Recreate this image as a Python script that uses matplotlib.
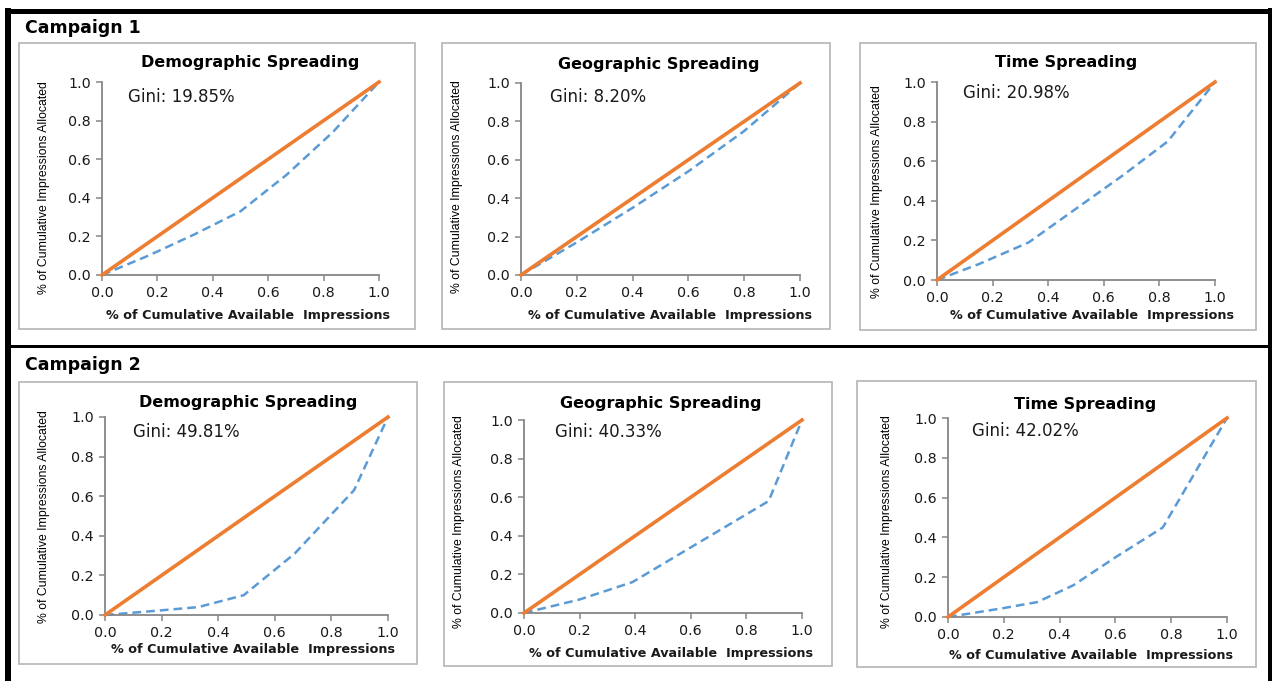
import matplotlib
matplotlib.use("Agg")
import matplotlib.pyplot as plt
from matplotlib.lines import Line2D
from matplotlib.patches import Rectangle

W, H = 1272, 681

# Lorenz curves (x = cum. available, y = cum. allocated)
c1_demo_x = [0.0, 0.167, 0.333, 0.5, 0.667, 0.833, 1.0]
c1_demo_y = [0.0, 0.10, 0.21, 0.33, 0.52, 0.74, 1.0]
c1_geo_x = [0.0, 0.2, 0.4, 0.6, 0.8, 1.0]
c1_geo_y = [0.0, 0.17, 0.35, 0.54, 0.75, 1.0]
c1_time_x = [0.0, 0.15, 0.33, 0.5, 0.67, 0.83, 1.0]
c1_time_y = [0.0, 0.08, 0.19, 0.36, 0.53, 0.70, 1.0]

c2_demo_x = [0.0, 0.17, 0.33, 0.49, 0.67, 0.88, 1.0]
c2_demo_y = [0.0, 0.02, 0.04, 0.10, 0.31, 0.63, 1.0]
c2_geo_x = [0.0, 0.2, 0.39, 0.6, 0.88, 1.0]
c2_geo_y = [0.0, 0.07, 0.16, 0.34, 0.58, 1.0]
c2_time_x = [0.0, 0.2, 0.32, 0.45, 0.6, 0.77, 1.0]
c2_time_y = [0.0, 0.045, 0.075, 0.16, 0.30, 0.45, 1.0]

titles = ["Demographic Spreading", "Geographic Spreading", "Time Spreading"]
gini_c1 = ["19.85%", "8.20%", "20.98%"]
gini_c2 = ["49.81%", "40.33%", "42.02%"]
campaigns = ["Campaign 1", "Campaign 2"]
ticks = [0.0, 0.2, 0.4, 0.6, 0.8, 1.0]

ORANGE = "#ED7D31"
BLUE = "#5B9BD5"
AXIS_GRAY = "#868686"
BOX_GRAY = "#B4B4B4"
TXT = "#1a1a1a"

# layout in reference pixels: box, axes(x0,x1,ytop,ybot), title center, gini left, xlabel center, ylabel center
panels = [
    dict(box=(19, 43, 415, 329), ax=(102, 379, 82, 275), title=(250, 62), gini=(128, 97), xl=(248, 315), yl=(44, 188)),
    dict(box=(442, 43, 830, 329), ax=(521, 800, 83, 275), title=(659, 64), gini=(550, 97), xl=(670, 315), yl=(457, 187)),
    dict(box=(860, 43, 1256, 330), ax=(937, 1215, 82, 280), title=(1066, 62), gini=(963, 93), xl=(1092, 315), yl=(877, 192)),
    dict(box=(19, 382, 417, 664), ax=(105, 388, 417, 615), title=(248, 402), gini=(133, 432), xl=(253, 650), yl=(44, 517)),
    dict(box=(444, 382, 832, 666), ax=(524, 802, 420, 613), title=(661, 404), gini=(555, 432), xl=(671, 653), yl=(459, 522)),
    dict(box=(857, 381, 1256, 667), ax=(948, 1227, 418, 617), title=(1085, 405), gini=(972, 431), xl=(1091, 655), yl=(887, 522)),
]

series = [
    (c1_demo_x, c1_demo_y), (c1_geo_x, c1_geo_y), (c1_time_x, c1_time_y),
    (c2_demo_x, c2_demo_y), (c2_geo_x, c2_geo_y), (c2_time_x, c2_time_y),
]
ginis = gini_c1 + gini_c2


def fx(px):
    return px / W


def fy(py):
    return 1 - py / H


fig = plt.figure(figsize=(W / 100, H / 100), dpi=100)
fig.patch.set_facecolor("white")

for i, (p, (xs, ys)) in enumerate(zip(panels, series)):
    bx0, by0, bx1, by1 = p["box"]
    fig.add_artist(Rectangle((fx(bx0), fy(by1)), fx(bx1 - bx0), (by1 - by0) / H,
                             transform=fig.transFigure, fill=False, ec=BOX_GRAY, lw=1.2))

    ax0, ax1, at, ab = p["ax"]
    ax = fig.add_axes([fx(ax0), fy(ab), fx(ax1 - ax0), (ab - at) / H])
    ax.plot([0, 1], [0, 1], color=ORANGE, lw=2.6, clip_on=False, zorder=3)
    ax.plot(xs, ys, color=BLUE, lw=1.8, ls=(0, (3.5, 2)), clip_on=False, zorder=2)
    ax.set_xlim(0, 1)
    ax.set_ylim(0, 1)
    ax.set_xticks(ticks)
    ax.set_yticks(ticks)
    ax.set_xticklabels([f"{t:.1f}" for t in ticks])
    ax.set_yticklabels([f"{t:.1f}" for t in ticks])
    for s in ("top", "right"):
        ax.spines[s].set_visible(False)
    for s in ("left", "bottom"):
        ax.spines[s].set_color(AXIS_GRAY)
        ax.spines[s].set_linewidth(1.3)
    ax.tick_params(colors=AXIS_GRAY, labelcolor=TXT, labelsize=10.3, length=4, width=1.1, pad=4)

    tx, ty = p["title"]
    fig.text(fx(tx), fy(ty), titles[i % 3], ha="center", va="center",
             fontsize=11.5, fontweight="bold", color="black")
    gx, gy = p["gini"]
    fig.text(fx(gx), fy(gy), f"Gini: {ginis[i]}", ha="left", va="center",
             fontsize=12, color=TXT)
    xx, xy = p["xl"]
    fig.text(fx(xx), fy(xy), "% of Cumulative Available  Impressions", ha="center", va="center",
             fontsize=9.2, fontweight="bold", color=TXT)
    yx, yy = p["yl"]
    fig.text(fx(yx), fy(yy), "% of Cumulative Impressions Allocated", ha="center", va="center",
             rotation=90, fontsize=8.8, color="black", family="Liberation Sans")

# campaign labels
fig.text(fx(25), fy(28), campaigns[0], ha="left", va="center", fontsize=12.5, fontweight="bold")
fig.text(fx(25), fy(365), campaigns[1], ha="left", va="center", fontsize=12.5, fontweight="bold")

# outer black frame and separator
frame = [
    ((5, 1272), (10.5, 10.5), 5),
    ((8, 8), (8, 681), 6),
    ((1270, 1270), (8, 681), 4),
    ((8, 1270), (346, 346), 3),
]
for (xa, xb), (ya, yb), lw in frame:
    fig.add_artist(Line2D([fx(xa), fx(xb)], [fy(ya), fy(yb)], transform=fig.transFigure,
                          color="black", lw=lw * 0.72, solid_capstyle="butt"))

fig.savefig("out.png", dpi=100)
